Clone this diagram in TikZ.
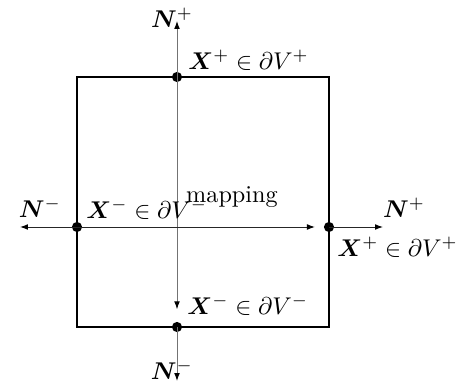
\documentclass[tikz,border=0pt]{standalone}
\usepackage{bm}
\usetikzlibrary{arrows.meta}
\begin{document}
\begin{tikzpicture}[x=0.413pt,y=-0.413pt,
  thinline/.style={line width=0.4pt,draw=black!85},
  gline/.style={line width=0.4pt,draw=black!55},
  arr/.style={-{Latex[length=3.3pt,width=2.4pt,color=black]}},
  dot/.style={circle,fill=black,inner sep=0pt,minimum size=4.2pt},
  lbl/.style={inner sep=0pt,anchor=west}]
\useasboundingbox (0,0) rectangle (461,387);
\draw[line width=1.2pt] (77,77) rectangle (329,327);
\node[dot] (A) at (177,77) {};
\node[dot] (B) at (177,327) {};
\node[dot] (L) at (77,227) {};
\node[dot] (R) at (329,227) {};
\coordinate (At) at (177,21);
\coordinate (Bt) at (177,381);
\coordinate (Lt) at (20,227);
\coordinate (Rt) at (383,227);
\draw[gline,arr] (A.center) -- (At);
\draw[gline,arr] (B.center) -- (Bt);
\draw[gline,arr,shorten >=5pt] (A.center) -- (B);
\draw[thinline,arr] (L.center) -- (Lt);
\draw[thinline,arr] (R.center) -- (Rt);
\draw[thinline,arr,shorten >=3.5pt] (L.center) -- (R);
\node (nt) at (172,18) {$\bm{N}^+$};
\node (nb) at (172,370) {$\bm{N}^-$};
\node (nl) at (40,208) {$\bm{N}^-$};
\node (nr) at (404,208) {$\bm{N}^+$};
\node[lbl] (xt) at (188,60) {$\bm{X}^+\in\partial V^+$};
\node[lbl] (xb) at (187,305) {$\bm{X}^-\in\partial V^-$};
\node[lbl] (xl) at (86,209) {$\bm{X}^-\in\partial V^-$};
\node[lbl] (xr) at (337,247) {$\bm{X}^+\in\partial V^+$};
\node (mp) at (232,197) {mapping};
\end{tikzpicture}
\end{document}
